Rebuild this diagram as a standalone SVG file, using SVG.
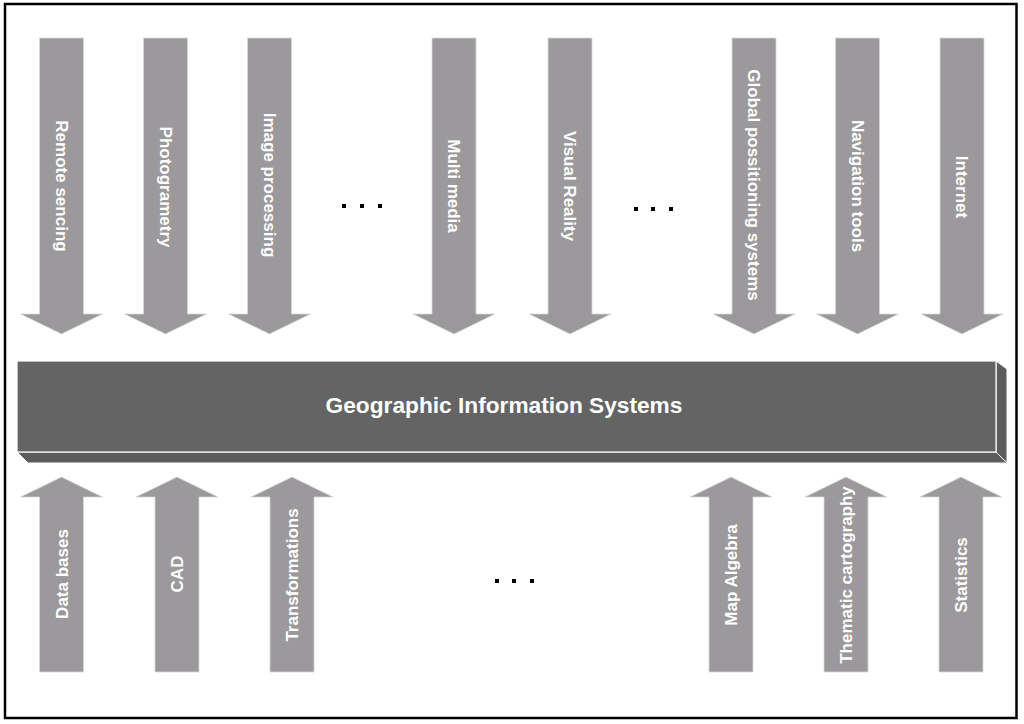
<svg xmlns="http://www.w3.org/2000/svg" width="1024" height="724" viewBox="0 0 1024 724">
<defs>
<style>
.arrow{fill:#9b999b;stroke:#d8d8d8;stroke-width:0.8}
.lbl{font-family:"Liberation Sans",Arial,sans-serif;font-weight:bold;font-size:17px;fill:#ffffff;text-anchor:middle}
.title{font-family:"Liberation Sans",Arial,sans-serif;font-weight:bold;font-size:22.7px;fill:#ffffff;text-anchor:middle}
.dot{fill:#000000}
</style>
<polygon id="down" class="arrow" points="-22,38 22,38 22,314 41,314 0,334 -41,314 -22,314"/>
<polygon id="up" class="arrow" points="0,477 41,497 22,497 22,672 -22,672 -22,497 -41,497"/>
</defs>
<rect x="0" y="0" width="1024" height="724" fill="#ffffff"/>
<rect x="5" y="4" width="1011.5" height="714" fill="none" stroke="#000000" stroke-width="2.5"/>

<g id="connectors">
<use href="#down" x="61.5"/>
<use href="#down" x="165.5"/>
<use href="#down" x="269.5"/>
<use href="#down" x="454"/>
<use href="#down" x="570"/>
<use href="#down" x="754"/>
<use href="#down" x="857.5"/>
<use href="#down" x="962"/>
<use href="#up" x="61.5"/>
<use href="#up" x="177"/>
<use href="#up" x="292"/>
<use href="#up" x="731"/>
<use href="#up" x="846"/>
<use href="#up" x="961"/>
</g>

<g id="gis">
<polygon points="996,361 1007,369 1007,463 996,452" fill="#5c5c5c" stroke="#ffffff" stroke-width="1"/>
<polygon points="17,452 996,452 1007,463 28,463" fill="#5c5c5c" stroke="#ffffff" stroke-width="1"/>
<rect x="17" y="361" width="979" height="91" fill="#646464" stroke="#ffffff" stroke-width="1.2"/>
<text class="title" x="504" y="413">Geographic Information Systems</text>
</g>

<g id="top-labels">
<g id="remote-sensing"><text class="lbl" transform="translate(61.5,186) rotate(90)" y="6">Remote sencing</text></g>
<g id="photogrametry"><text class="lbl" transform="translate(165.5,187) rotate(90)" y="6">Photogrametry</text></g>
<g id="image-processing"><text class="lbl" transform="translate(269.5,185) rotate(90)" y="6">Image processing</text></g>
<g id="multi-media"><text class="lbl" transform="translate(454,186) rotate(90)" y="6">Multi media</text></g>
<g id="visual-reality"><text class="lbl" transform="translate(570,186) rotate(90)" y="6">Visual Reality</text></g>
<g id="gps"><text class="lbl" transform="translate(754,185) rotate(90)" y="6">Global possitioning systems</text></g>
<g id="navigation"><text class="lbl" transform="translate(857.5,186) rotate(90)" y="6">Navigation tools</text></g>
<g id="internet"><text class="lbl" transform="translate(962,187) rotate(90)" y="6">Internet</text></g>
</g>

<g id="bottom-labels">
<g id="data-bases"><text class="lbl" transform="translate(61.5,574) rotate(-90)" y="6">Data bases</text></g>
<g id="cad"><text class="lbl" transform="translate(177,574) rotate(-90)" y="6">CAD</text></g>
<g id="transformations"><text class="lbl" transform="translate(292,575) rotate(-90)" y="6">Transformations</text></g>
<g id="map-algebra"><text class="lbl" transform="translate(731,575) rotate(-90)" y="6">Map Algebra</text></g>
<g id="thematic"><text class="lbl" transform="translate(846,575) rotate(-90)" y="6">Thematic cartography</text></g>
<g id="statistics"><text class="lbl" transform="translate(961,575) rotate(-90)" y="6">Statistics</text></g>
</g>

<g id="ellipses">
<rect class="dot" x="342" y="204" width="4" height="4"/>
<rect class="dot" x="360" y="204" width="4" height="4"/>
<rect class="dot" x="378" y="204" width="4" height="4"/>
<rect class="dot" x="634" y="207" width="4" height="4"/>
<rect class="dot" x="651" y="207" width="4" height="4"/>
<rect class="dot" x="669" y="207" width="4" height="4"/>
<rect class="dot" x="495" y="579" width="4" height="4"/>
<rect class="dot" x="512" y="579" width="4" height="4"/>
<rect class="dot" x="530" y="579" width="4" height="4"/>
</g>
</svg>
